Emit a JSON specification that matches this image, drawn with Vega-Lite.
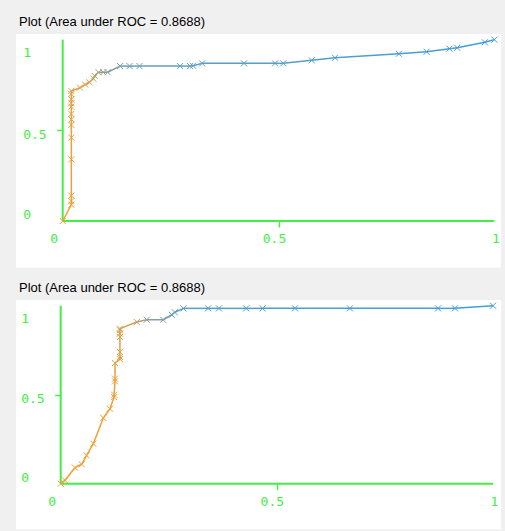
{
  "$schema": "https://vega.github.io/schema/vega-lite/v6.json",
  "background": "#f0f0f0",
  "padding": {"left": 16, "top": 16, "right": 4, "bottom": 4},
  "autosize": {"type": "pad"},
  "spacing": 14,
  "config": {
    "view": {"fill": "white", "stroke": null},
    "title": {"anchor": "start", "frame": "group", "font": "Liberation Sans", "fontSize": 13, "fontWeight": "normal", "color": "#000000", "dx": 3, "offset": 5, "baseline": "alphabetic"}
  },
  "datasets": {
    "roc1": [
      {"fpr": 0, "tpr": 0, "t": 1.0},
      {"fpr": 0.02, "tpr": 0.09, "t": 0.99},
      {"fpr": 0.02, "tpr": 0.11, "t": 0.98},
      {"fpr": 0.02, "tpr": 0.14, "t": 0.97},
      {"fpr": 0.02, "tpr": 0.34, "t": 0.96},
      {"fpr": 0.02, "tpr": 0.46, "t": 0.95},
      {"fpr": 0.02, "tpr": 0.53, "t": 0.95},
      {"fpr": 0.02, "tpr": 0.56, "t": 0.94},
      {"fpr": 0.02, "tpr": 0.59, "t": 0.94},
      {"fpr": 0.02, "tpr": 0.63, "t": 0.93},
      {"fpr": 0.02, "tpr": 0.65, "t": 0.93},
      {"fpr": 0.02, "tpr": 0.67, "t": 0.92},
      {"fpr": 0.02, "tpr": 0.70, "t": 0.91},
      {"fpr": 0.02, "tpr": 0.717, "t": 0.9},
      {"fpr": 0.04, "tpr": 0.735, "t": 0.88},
      {"fpr": 0.052, "tpr": 0.752, "t": 0.85},
      {"fpr": 0.062, "tpr": 0.765, "t": 0.8},
      {"fpr": 0.071, "tpr": 0.785, "t": 0.72},
      {"fpr": 0.074, "tpr": 0.80, "t": 0.66},
      {"fpr": 0.083, "tpr": 0.82, "t": 0.58},
      {"fpr": 0.094, "tpr": 0.82, "t": 0.45},
      {"fpr": 0.104, "tpr": 0.82, "t": 0.38},
      {"fpr": 0.133, "tpr": 0.854, "t": 0.28},
      {"fpr": 0.155, "tpr": 0.854, "t": 0.25},
      {"fpr": 0.178, "tpr": 0.854, "t": 0.23},
      {"fpr": 0.272, "tpr": 0.854, "t": 0.2},
      {"fpr": 0.295, "tpr": 0.854, "t": 0.19},
      {"fpr": 0.302, "tpr": 0.856, "t": 0.18},
      {"fpr": 0.323, "tpr": 0.869, "t": 0.17},
      {"fpr": 0.42, "tpr": 0.869, "t": 0.15},
      {"fpr": 0.492, "tpr": 0.869, "t": 0.13},
      {"fpr": 0.511, "tpr": 0.869, "t": 0.12},
      {"fpr": 0.577, "tpr": 0.886, "t": 0.1},
      {"fpr": 0.631, "tpr": 0.90, "t": 0.09},
      {"fpr": 0.779, "tpr": 0.922, "t": 0.07},
      {"fpr": 0.843, "tpr": 0.933, "t": 0.05},
      {"fpr": 0.896, "tpr": 0.95, "t": 0.04},
      {"fpr": 0.914, "tpr": 0.955, "t": 0.03},
      {"fpr": 0.978, "tpr": 0.985, "t": 0.01},
      {"fpr": 1.0, "tpr": 1.0, "t": 0}
    ],
    "roc2": [
      {"fpr": 0, "tpr": 0, "t": 1.0},
      {"fpr": 0.010, "tpr": 0.019, "t": 1.0},
      {"fpr": 0.033, "tpr": 0.09, "t": 0.99},
      {"fpr": 0.0485, "tpr": 0.109, "t": 0.99},
      {"fpr": 0.060, "tpr": 0.159, "t": 0.98},
      {"fpr": 0.0755, "tpr": 0.225, "t": 0.98},
      {"fpr": 0.0985, "tpr": 0.369, "t": 0.97},
      {"fpr": 0.114, "tpr": 0.421, "t": 0.97},
      {"fpr": 0.1235, "tpr": 0.487, "t": 0.96},
      {"fpr": 0.1235, "tpr": 0.50, "t": 0.96},
      {"fpr": 0.1256, "tpr": 0.575, "t": 0.95},
      {"fpr": 0.1256, "tpr": 0.59, "t": 0.95},
      {"fpr": 0.1256, "tpr": 0.678, "t": 0.94},
      {"fpr": 0.137, "tpr": 0.70, "t": 0.9},
      {"fpr": 0.137, "tpr": 0.712, "t": 0.9},
      {"fpr": 0.137, "tpr": 0.74, "t": 0.88},
      {"fpr": 0.137, "tpr": 0.824, "t": 0.86},
      {"fpr": 0.137, "tpr": 0.843, "t": 0.85},
      {"fpr": 0.137, "tpr": 0.862, "t": 0.84},
      {"fpr": 0.137, "tpr": 0.871, "t": 0.83},
      {"fpr": 0.176, "tpr": 0.908, "t": 0.65},
      {"fpr": 0.199, "tpr": 0.921, "t": 0.42},
      {"fpr": 0.237, "tpr": 0.921, "t": 0.32},
      {"fpr": 0.257, "tpr": 0.949, "t": 0.22},
      {"fpr": 0.264, "tpr": 0.963, "t": 0.18},
      {"fpr": 0.284, "tpr": 0.985, "t": 0.15},
      {"fpr": 0.341, "tpr": 0.985, "t": 0.13},
      {"fpr": 0.366, "tpr": 0.985, "t": 0.12},
      {"fpr": 0.429, "tpr": 0.985, "t": 0.1},
      {"fpr": 0.467, "tpr": 0.985, "t": 0.09},
      {"fpr": 0.542, "tpr": 0.985, "t": 0.07},
      {"fpr": 0.669, "tpr": 0.985, "t": 0.05},
      {"fpr": 0.873, "tpr": 0.985, "t": 0.03},
      {"fpr": 0.912, "tpr": 0.985, "t": 0.02},
      {"fpr": 1.0, "tpr": 1.0, "t": 0}
    ]
  },
  "vconcat": [
    {
      "width": 485,
      "height": 233.5,
      "title": {"text": "Plot (Area under ROC = 0.8688)"},
      "layer": [
        {
          "data": {"values": [{}]},
          "mark": {"type": "rule", "color": "#44ee44", "strokeWidth": 2},
          "encoding": {
            "x": {"datum": 0, "type": "quantitative", "scale": {"domain": [-0.1082, 1.0155], "nice": false, "zero": false},
              "axis": {"orient": "bottom", "offset": -46.5, "values": [0, 0.5, 1], "domain": false, "grid": false, "title": null,
                "tickSize": 6, "tickWidth": 1.5, "tickColor": "#44ee44", "tickOpacity": {"condition": {"test": "datum.value == 0.5", "value": 1}, "value": 0},
                "labelFont": "DejaVu Sans Mono", "labelFontSize": 13, "labelColor": "#44ee44", "labelPadding": 11.5, "labelBaseline": "middle", "labelAlign": "center",
                "labelFlush": false, "labelOverlap": false, "labelExpr": "'' + datum.value",
                "labelOffset": {"condition": [{"test": "datum.value == 0", "value": -9}, {"test": "datum.value == 1", "value": 1}], "value": -4.5}}},
            "x2": {"datum": 1},
            "y": {"datum": 0, "type": "quantitative", "scale": {"domain": [-0.2563, 1.0309], "nice": false, "zero": false},
              "axis": {"orient": "left", "offset": -46.7, "values": [0, 0.5, 1], "domain": false, "grid": false, "title": null,
                "tickSize": 6, "tickWidth": 1.5, "tickColor": "#44ee44", "tickOpacity": {"condition": {"test": "datum.value == 0.5", "value": 1}, "value": 0},
                "labelFont": "DejaVu Sans Mono", "labelFontSize": 13, "labelColor": "#44ee44", "labelPadding": 34, "labelBaseline": "middle", "labelAlign": "left",
                "labelFlush": false, "labelOverlap": false, "labelExpr": "'' + datum.value",
                "labelOffset": {"condition": [{"test": "datum.value == 0", "value": -6.5}, {"test": "datum.value == 1", "value": 13}], "value": 4}}}
          }
        },
        {
          "data": {"values": [{}]},
          "mark": {"type": "rule", "color": "#44ee44", "strokeWidth": 2},
          "encoding": {
            "x": {"datum": 0, "type": "quantitative"},
            "y": {"datum": 0, "type": "quantitative"},
            "y2": {"datum": 1}
          }
        },
        {
          "data": {"name": "roc1"},
          "transform": [
            {"window": [{"op": "lead", "field": "fpr", "as": "fpr2"}, {"op": "lead", "field": "tpr", "as": "tpr2"}], "sort": [{"field": "fpr"}, {"field": "tpr"}]},
            {"filter": "datum.fpr2 != null"}
          ],
          "mark": {"type": "rule", "strokeWidth": 1.5},
          "encoding": {
            "x": {"field": "fpr", "type": "quantitative"},
            "y": {"field": "tpr", "type": "quantitative"},
            "x2": {"field": "fpr2"},
            "y2": {"field": "tpr2"},
            "color": {"field": "t", "type": "quantitative", "scale": {"domain": [0, 1], "range": ["#3d9ee0", "#f5a030"], "interpolate": "rgb"}, "legend": null}
          }
        },
        {
          "data": {"name": "roc1"},
          "mark": {"type": "point", "shape": "M-1,-1L1,1M-1,1L1,-1", "filled": false, "size": 36, "strokeWidth": 1, "opacity": 1},
          "encoding": {
            "x": {"field": "fpr", "type": "quantitative"},
            "y": {"field": "tpr", "type": "quantitative"},
            "color": {"field": "t", "type": "quantitative", "legend": null}
          }
        }
      ]
    },
    {
      "width": 485,
      "height": 229.3,
      "title": {"text": "Plot (Area under ROC = 0.8688)"},
      "layer": [
        {
          "data": {"values": [{}]},
          "mark": {"type": "rule", "color": "#44ee44", "strokeWidth": 2},
          "encoding": {
            "x": {"datum": 0, "type": "quantitative", "scale": {"domain": [-0.1034, 1.0185], "nice": false, "zero": false},
              "axis": {"orient": "bottom", "offset": -45.6, "values": [0, 0.5, 1], "domain": false, "grid": false, "title": null,
                "tickSize": 6, "tickWidth": 1.5, "tickColor": "#44ee44", "tickOpacity": {"condition": {"test": "datum.value == 0.5", "value": 1}, "value": 0},
                "labelFont": "DejaVu Sans Mono", "labelFontSize": 13, "labelColor": "#44ee44", "labelPadding": 11.5, "labelBaseline": "middle", "labelAlign": "center",
                "labelFlush": false, "labelOverlap": false, "labelExpr": "'' + datum.value",
                "labelOffset": {"condition": [{"test": "datum.value == 0", "value": -9}, {"test": "datum.value == 1", "value": 1}], "value": -5}}},
            "x2": {"datum": 1},
            "y": {"datum": 0, "type": "quantitative", "scale": {"domain": [-0.2562, 1.032], "nice": false, "zero": false},
              "axis": {"orient": "left", "offset": -44.7, "values": [0, 0.5, 1], "domain": false, "grid": false, "title": null,
                "tickSize": 6, "tickWidth": 1.5, "tickColor": "#44ee44", "tickOpacity": {"condition": {"test": "datum.value == 0.5", "value": 1}, "value": 0},
                "labelFont": "DejaVu Sans Mono", "labelFontSize": 13, "labelColor": "#44ee44", "labelPadding": 34, "labelBaseline": "middle", "labelAlign": "left",
                "labelFlush": false, "labelOverlap": false, "labelExpr": "'' + datum.value",
                "labelOffset": {"condition": [{"test": "datum.value == 0", "value": -5.7}, {"test": "datum.value == 1", "value": 13}], "value": 4}}}
          }
        },
        {
          "data": {"values": [{}]},
          "mark": {"type": "rule", "color": "#44ee44", "strokeWidth": 2},
          "encoding": {
            "x": {"datum": 0, "type": "quantitative"},
            "y": {"datum": 0, "type": "quantitative"},
            "y2": {"datum": 1}
          }
        },
        {
          "data": {"name": "roc2"},
          "transform": [
            {"window": [{"op": "lead", "field": "fpr", "as": "fpr2"}, {"op": "lead", "field": "tpr", "as": "tpr2"}], "sort": [{"field": "fpr"}, {"field": "tpr"}]},
            {"filter": "datum.fpr2 != null"}
          ],
          "mark": {"type": "rule", "strokeWidth": 1.5},
          "encoding": {
            "x": {"field": "fpr", "type": "quantitative"},
            "y": {"field": "tpr", "type": "quantitative"},
            "x2": {"field": "fpr2"},
            "y2": {"field": "tpr2"},
            "color": {"field": "t", "type": "quantitative", "scale": {"domain": [0, 1], "range": ["#3d9ee0", "#f5a030"], "interpolate": "rgb"}, "legend": null}
          }
        },
        {
          "data": {"name": "roc2"},
          "mark": {"type": "point", "shape": "M-1,-1L1,1M-1,1L1,-1", "filled": false, "size": 36, "strokeWidth": 1, "opacity": 1},
          "encoding": {
            "x": {"field": "fpr", "type": "quantitative"},
            "y": {"field": "tpr", "type": "quantitative"},
            "color": {"field": "t", "type": "quantitative", "legend": null}
          }
        }
      ]
    }
  ]
}
